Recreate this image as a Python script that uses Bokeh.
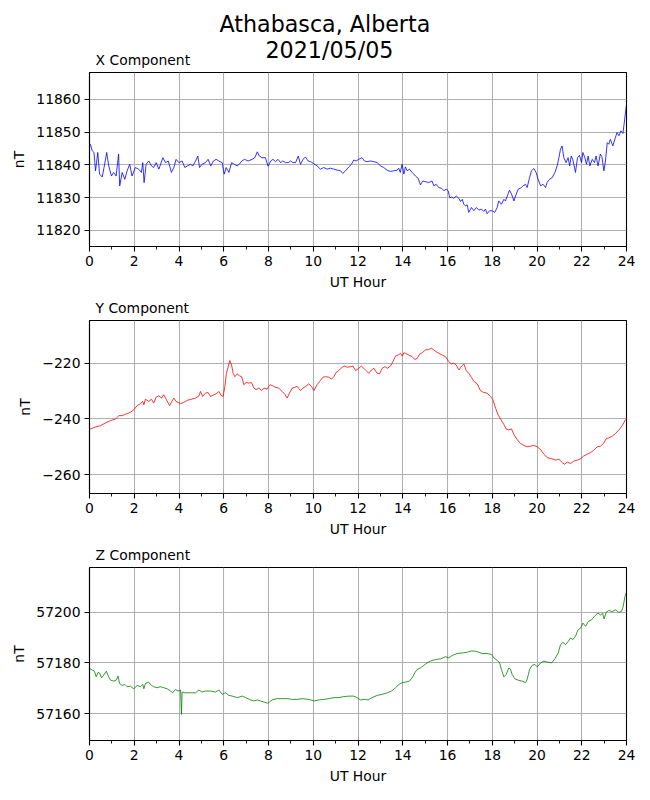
from bokeh.plotting import figure
from bokeh.layouts import column
from bokeh.models import Range1d, FixedTicker, Title
from bokeh.embed import file_html
from bokeh.resources import INLINE

# ---------------- data ----------------
station_title = "Athabasca, Alberta"
date_title = "2021/05/05"
panel_titles = ["X Component", "Y Component", "Z Component"]
x_tick_hours = [0, 2, 4, 6, 8, 10, 12, 14, 16, 18, 20, 22, 24]
x_minor_hours = list(range(25))

x_ticks = [11820, 11830, 11840, 11850, 11860]
y_ticks = [-260, -240, -220]
z_ticks = [57160, 57180, 57200]

x_hours = [0.0, 0.04, 0.12, 0.2, 0.27, 0.37, 0.45, 0.57, 0.65, 0.77, 0.86, 0.98, 1.08, 1.19, 1.3, 1.35,
           1.46, 1.58, 1.68, 1.8, 1.9, 2.05, 2.2, 2.32, 2.38, 2.44, 2.53, 2.65, 2.77, 2.87, 2.98, 3.1,
           3.28, 3.4, 3.52, 3.66, 3.77, 3.87, 3.99, 4.14, 4.26, 4.38, 4.51, 4.62, 4.74, 4.84, 4.92,
           5.03, 5.18, 5.3, 5.42, 5.54, 5.66, 5.78, 5.93, 6.02, 6.11, 6.23, 6.35, 6.47, 6.6, 6.69,
           6.81, 6.93, 7.09, 7.27, 7.39, 7.5, 7.59, 7.71, 7.86, 7.98, 8.1, 8.2, 8.31, 8.43, 8.54,
           8.64, 8.76, 8.88, 8.98, 9.09, 9.21, 9.33, 9.43, 9.54, 9.65, 9.77, 9.88, 10.02, 10.17,
           10.32, 10.47, 10.62, 10.77, 10.92, 11.07, 11.22, 11.32, 11.44, 11.59, 11.71, 11.81,
           11.92, 12.03, 12.18, 12.29, 12.41, 12.56, 12.71, 12.86, 13.0, 13.15, 13.3, 13.45, 13.6,
           13.75, 13.82, 13.89, 13.97, 14.05, 14.12, 14.2, 14.3, 14.42, 14.57, 14.69, 14.79, 14.9,
           15.01, 15.16, 15.31, 15.39, 15.49, 15.61, 15.73, 15.84, 15.94, 16.03, 16.1, 16.18, 16.28,
           16.39, 16.51, 16.58, 16.66, 16.73, 16.8, 16.88, 16.95, 17.07, 17.18, 17.29, 17.4, 17.52,
           17.62, 17.7, 17.77, 17.88, 18.0, 18.11, 18.22, 18.29, 18.41, 18.52, 18.59, 18.67, 18.77,
           18.86, 18.97, 19.04, 19.16, 19.27, 19.37, 19.49, 19.56, 19.66, 19.75, 19.86, 19.96,
           20.05, 20.16, 20.27, 20.38, 20.45, 20.56, 20.68, 20.8, 20.9, 20.98, 21.05, 21.12, 21.2,
           21.3, 21.39, 21.46, 21.53, 21.6, 21.72, 21.81, 21.9, 21.99, 22.05, 22.14, 22.21, 22.29,
           22.36, 22.47, 22.57, 22.64, 22.73, 22.83, 22.9, 22.99, 23.06, 23.14, 23.21, 23.28, 23.39,
           23.5, 23.58, 23.66, 23.75, 23.84, 23.91, 23.99]
x_nt = [11845.8, 11846.3, 11844.3, 11843.8, 11838.2, 11843.8, 11837.2, 11836.3, 11839.2, 11843.8,
        11839.7, 11836.6, 11837.7, 11836.6, 11843.3, 11833.6, 11837.7, 11835.6, 11838.2, 11840.2,
        11836.6, 11839.2, 11838.7, 11837.7, 11840.7, 11834.6, 11840.2, 11841.2, 11839.7, 11839.2,
        11840.7, 11838.7, 11842.2, 11840.7, 11841.2, 11837.7, 11839.2, 11841.7, 11840.7, 11841.2,
        11839.2, 11839.7, 11840.2, 11839.7, 11841.2, 11842.7, 11839.2, 11840.2, 11840.7, 11841.7,
        11839.7, 11841.2, 11841.7, 11841.2, 11840.7, 11837.2, 11839.2, 11837.7, 11840.7, 11840.2,
        11839.7, 11840.2, 11841.2, 11841.7, 11841.2, 11841.7, 11842.2, 11844.0, 11842.7, 11842.2,
        11842.2, 11839.6, 11841.2, 11841.7, 11841.0, 11841.7, 11840.7, 11841.2, 11840.7, 11840.7,
        11841.2, 11840.7, 11840.7, 11842.7, 11840.2, 11841.7, 11842.4, 11841.2, 11841.0, 11840.4,
        11839.7, 11838.7, 11839.2, 11838.7, 11839.0, 11838.7, 11838.4, 11838.2, 11837.4, 11838.2,
        11839.4, 11840.2, 11841.5, 11841.2, 11841.7, 11842.2, 11841.2, 11841.0, 11841.2, 11841.0,
        11840.7, 11839.7, 11839.2, 11838.4, 11838.0, 11838.2, 11838.4, 11839.0, 11837.7, 11840.2,
        11837.2, 11839.4, 11838.2, 11838.7, 11837.7, 11836.6, 11835.9, 11833.9, 11835.1, 11834.9,
        11834.6, 11835.1, 11833.6, 11834.1, 11833.1, 11832.9, 11832.1, 11832.6, 11832.1, 11830.0,
        11830.2, 11829.8, 11830.5, 11829.8, 11828.8, 11829.5, 11828.0, 11827.5, 11827.8, 11825.5,
        11827.0, 11826.0, 11827.0, 11826.2, 11826.5, 11825.8, 11826.5, 11825.1, 11826.0, 11826.0,
        11825.5, 11827.0, 11829.0, 11828.0, 11829.5, 11829.0, 11830.5, 11832.3, 11831.1, 11829.0,
        11830.5, 11832.6, 11832.9, 11833.6, 11834.1, 11833.1, 11835.9, 11838.2, 11838.9, 11837.7,
        11835.6, 11833.6, 11834.1, 11833.1, 11834.6, 11835.6, 11836.1, 11837.7, 11839.7, 11842.2,
        11844.8, 11845.8, 11842.2, 11840.7, 11842.2, 11839.7, 11842.7, 11841.7, 11837.7, 11842.2,
        11842.9, 11840.7, 11843.8, 11842.2, 11840.2, 11842.7, 11839.7, 11841.7, 11840.7, 11842.7,
        11839.7, 11843.3, 11842.5, 11838.2, 11841.2, 11846.8, 11846.3, 11847.8, 11845.8, 11848.3,
        11849.9, 11848.9, 11850.4, 11849.6, 11853.4, 11858.0]

y_hours = [0.0, 0.04, 0.27, 0.5, 0.72, 0.94, 1.17, 1.31, 1.46, 1.61, 1.83, 1.98, 2.13, 2.28, 2.38,
           2.43, 2.5, 2.65, 2.77, 2.87, 2.98, 3.1, 3.22, 3.32, 3.44, 3.58, 3.68, 3.77, 3.87, 4.07,
           4.22, 4.37, 4.56, 4.74, 4.89, 4.96, 5.06, 5.18, 5.3, 5.41, 5.56, 5.71, 5.78, 5.9, 5.97,
           6.05, 6.12, 6.2, 6.27, 6.35, 6.42, 6.5, 6.6, 6.71, 6.8, 6.9, 7.0, 7.12, 7.24, 7.35, 7.45,
           7.57, 7.69, 7.8, 7.94, 8.01, 8.08, 8.19, 8.31, 8.46, 8.61, 8.73, 8.83, 8.94, 9.06, 9.18,
           9.28, 9.43, 9.54, 9.66, 9.8, 9.92, 10.03, 10.17, 10.32, 10.43, 10.55, 10.7, 10.81, 10.92,
           11.02, 11.14, 11.29, 11.41, 11.52, 11.67, 11.78, 11.89, 12.03, 12.15, 12.26, 12.36,
           12.48, 12.6, 12.71, 12.86, 12.96, 13.08, 13.2, 13.31, 13.45, 13.56, 13.68, 13.8, 13.9,
           13.98, 14.05, 14.12, 14.27, 14.42, 14.54, 14.65, 14.75, 14.87, 15.01, 15.16, 15.28,
           15.39, 15.49, 15.61, 15.76, 15.91, 16.06, 16.18, 16.28, 16.39, 16.51, 16.63, 16.73,
           16.84, 16.95, 17.07, 17.18, 17.33, 17.47, 17.62, 17.77, 17.92, 18.03, 18.15, 18.26,
           18.37, 18.52, 18.62, 18.74, 18.86, 18.97, 19.11, 19.26, 19.41, 19.56, 19.71, 19.86,
           20.01, 20.16, 20.31, 20.46, 20.65, 20.83, 20.98, 21.13, 21.24, 21.35, 21.5, 21.65, 21.8,
           21.95, 22.09, 22.24, 22.39, 22.54, 22.69, 22.84, 22.99, 23.09, 23.21, 23.36, 23.51,
           23.66, 23.81, 23.96]
y_nt = [-243.8, -243.6, -242.9, -242.4, -241.4, -240.6, -240.0, -238.8, -238.8, -238.3, -237.6,
        -236.7, -235.2, -234.5, -233.7, -234.9, -232.9, -233.7, -232.9, -234.3, -232.1, -231.7,
        -232.5, -231.3, -233.1, -235.2, -233.7, -232.5, -233.7, -234.5, -234.0, -233.3, -232.9,
        -232.5, -231.7, -230.1, -231.9, -230.7, -230.5, -231.9, -231.3, -230.7, -230.1, -231.7,
        -231.9, -228.3, -223.6, -221.2, -219.0, -220.6, -223.6, -224.8, -223.8, -224.5, -224.8,
        -227.7, -226.9, -227.1, -226.9, -228.9, -229.5, -228.9, -229.8, -228.9, -229.3, -228.3,
        -227.7, -228.1, -228.6, -228.9, -230.1, -231.1, -232.5, -230.7, -228.9, -228.6, -228.3,
        -229.8, -228.9, -228.3, -227.4, -228.3, -229.8, -227.7, -226.2, -225.0, -224.8, -225.0,
        -225.7, -224.8, -223.3, -222.6, -221.4, -221.0, -221.4, -221.2, -221.0, -222.6, -221.8,
        -221.0, -221.8, -222.6, -223.6, -222.4, -221.8, -223.6, -223.8, -221.8, -221.2, -221.8,
        -221.0, -219.4, -217.4, -217.0, -216.4, -217.4, -216.2, -216.4, -217.0, -217.6, -218.6,
        -218.2, -216.7, -216.2, -215.2, -215.0, -214.6, -215.2, -215.8, -216.4, -217.0, -217.6,
        -219.4, -220.2, -219.9, -220.6, -222.4, -221.0, -220.2, -222.6, -223.6, -225.0, -226.5,
        -227.4, -229.8, -230.5, -230.7, -231.9, -233.1, -236.1, -238.5, -240.0, -242.0, -243.6,
        -243.9, -243.6, -245.6, -247.4, -248.8, -249.5, -250.0, -249.8, -249.5, -250.0, -251.0,
        -252.7, -253.9, -254.3, -254.8, -254.5, -255.7, -256.3, -255.5, -256.0, -255.1, -254.8,
        -254.3, -253.3, -252.7, -252.1, -251.2, -250.0, -249.8, -248.6, -247.1, -246.8, -246.2,
        -245.2, -244.0, -242.4, -240.2]

z_hours = [0.0, 0.04, 0.14, 0.22, 0.3, 0.39, 0.45, 0.54, 0.65, 0.75, 0.84, 0.94, 1.09, 1.19, 1.28,
           1.34, 1.46, 1.58, 1.68, 1.83, 1.98, 2.13, 2.28, 2.38, 2.43, 2.5, 2.65, 2.77, 2.87, 3.02,
           3.17, 3.32, 3.47, 3.62, 3.72, 3.84, 3.96, 4.07, 4.11, 4.14, 4.29, 4.51, 4.74, 4.89, 5.03,
           5.18, 5.41, 5.63, 5.78, 5.93, 6.08, 6.23, 6.38, 6.6, 6.83, 6.98, 7.2, 7.35, 7.5, 7.64,
           7.79, 7.94, 8.01, 8.16, 8.38, 8.61, 8.83, 9.06, 9.28, 9.5, 9.8, 10.03, 10.25, 10.47, 10.7,
           10.92, 11.14, 11.37, 11.59, 11.81, 11.96, 12.11, 12.28, 12.45, 12.63, 12.86, 13.08, 13.31,
           13.5, 13.68, 13.83, 13.97, 14.12, 14.3, 14.42, 14.54, 14.64, 14.79, 14.94, 15.09, 15.24,
           15.46, 15.69, 15.91, 16.06, 16.21, 16.43, 16.66, 16.88, 17.07, 17.25, 17.4, 17.55, 17.77,
           17.97, 18.07, 18.22, 18.33, 18.41, 18.52, 18.62, 18.74, 18.81, 18.89, 19.01, 19.19,
           19.34, 19.49, 19.56, 19.67, 19.78, 19.9, 20.01, 20.16, 20.31, 20.46, 20.65, 20.8, 20.95,
           21.05, 21.16, 21.28, 21.4, 21.5, 21.6, 21.72, 21.84, 21.95, 22.05, 22.17, 22.29, 22.44,
           22.59, 22.73, 22.84, 22.93, 23.0, 23.09, 23.21, 23.36, 23.51, 23.66, 23.78, 23.85, 23.93,
           23.99]
z_nt = [57177.9, 57177.6, 57177.1, 57176.7, 57174.5, 57176.3, 57176.0, 57174.1, 57175.4, 57176.7,
        57174.8, 57173.2, 57172.8, 57173.2, 57174.8, 57171.9, 57171.1, 57171.5, 57170.6, 57170.8,
        57169.8, 57171.1, 57170.6, 57171.5, 57169.8, 57171.9, 57172.4, 57171.1, 57170.6, 57170.2,
        57170.6, 57170.2, 57169.8, 57168.9, 57168.2, 57169.5, 57168.9, 57169.3, 57159.7, 57168.5,
        57168.2, 57168.2, 57168.2, 57169.3, 57168.5, 57168.9, 57168.9, 57168.5, 57169.3, 57167.6,
        57168.2, 57167.2, 57166.9, 57166.3, 57166.9, 57166.3, 57165.4, 57165.0, 57165.4, 57165.0,
        57164.6, 57164.1, 57164.3, 57165.4, 57165.9, 57165.9, 57165.9, 57165.6, 57165.6, 57165.9,
        57165.6, 57165.0, 57165.4, 57165.6, 57165.9, 57166.3, 57166.3, 57166.7, 57166.9, 57166.9,
        57166.3, 57165.4, 57165.6, 57165.4, 57166.3, 57167.2, 57167.6, 57168.2, 57168.9, 57170.2,
        57171.5, 57172.2, 57172.4, 57172.8, 57174.1, 57176.1, 57177.4, 57178.0, 57179.0, 57180.0,
        57180.7, 57181.3, 57181.6, 57182.4, 57182.0, 57182.9, 57183.7, 57183.9, 57184.2, 57184.7,
        57184.6, 57184.2, 57183.7, 57183.7, 57183.3, 57182.0, 57181.0, 57180.0, 57177.4, 57174.5,
        57175.4, 57178.0, 57177.6, 57175.4, 57173.7, 57173.1, 57172.8, 57172.2, 57173.5, 57177.4,
        57179.0, 57179.4, 57178.4, 57180.0, 57180.7, 57180.3, 57180.0, 57181.6, 57183.9, 57187.2,
        57188.1, 57187.2, 57188.5, 57189.8, 57189.2, 57190.5, 57193.1, 57193.7, 57195.7, 57194.4,
        57196.3, 57197.0, 57198.6, 57199.6, 57198.9, 57199.6, 57197.3, 57199.9, 57200.7, 57200.2,
        57200.9, 57199.9, 57200.3, 57202.2, 57206.1, 57207.7]

# ---------------- styling ----------------
FONT = "DejaVu Sans"
TICK_PX = "13.9px"
W = 650
LEFT, RIGHT = 89, 24
FRAME_H = 174


def make_panel(hours, vals, color, ylo, yhi, yticks, title, top, bottom, overrides=None):
    p = figure(width=W, height=top + FRAME_H + bottom, output_backend="svg",
               toolbar_location=None, x_range=Range1d(0, 24), y_range=Range1d(ylo, yhi),
               min_border_left=LEFT, min_border_right=RIGHT, min_border_top=top,
               min_border_bottom=bottom)
    p.title.visible = False
    p.background_fill_color = "white"
    p.border_fill_color = "white"
    p.outline_line_color = "black"
    p.outline_line_width = 1.1

    xt = FixedTicker(ticks=x_tick_hours, minor_ticks=x_minor_hours)
    yt = FixedTicker(ticks=yticks, minor_ticks=[])
    p.xaxis.ticker = xt
    p.yaxis.ticker = yt
    p.xgrid.ticker = xt
    p.ygrid.ticker = yt
    for g in (p.xgrid, p.ygrid):
        g.grid_line_color = "#b0b0b0"
        g.grid_line_width = 1.1
    if overrides:
        p.yaxis.major_label_overrides = overrides

    p.xaxis.axis_label = "UT Hour"
    p.yaxis.axis_label = "nT"
    for ax in (p.xaxis[0], p.yaxis[0]):
        ax.axis_line_color = "black"
        ax.axis_line_width = 1.1
        ax.major_tick_line_color = "black"
        ax.major_tick_line_width = 1.1
        ax.major_tick_out = 5
        ax.major_tick_in = 0
        ax.minor_tick_line_color = "black"
        ax.minor_tick_line_width = 0.9
        ax.minor_tick_out = 3
        ax.minor_tick_in = 0
        ax.major_label_text_font = FONT
        ax.major_label_text_font_size = TICK_PX
        ax.major_label_text_color = "black"
        ax.axis_label_text_font = FONT
        ax.axis_label_text_font_size = TICK_PX
        ax.axis_label_text_font_style = "normal"
        ax.axis_label_text_color = "black"
    p.xaxis.major_label_standoff = 4
    p.xaxis.axis_label_standoff = 5
    p.yaxis.major_label_standoff = 4
    p.yaxis.axis_label_standoff = 6

    p.line(hours, vals, line_color=color, line_width=0.8)

    p.add_layout(Title(text=title, align="left", offset=6, standoff=10,
                       text_font=FONT, text_font_size=TICK_PX, text_font_style="normal",
                       text_color="black"), "above")
    return p


p1 = make_panel(x_hours, x_nt, "#0000ff", 11815.1, 11868.2, x_ticks, panel_titles[0], 72, 46)
p1.add_layout(Title(text=date_title, align="left", offset=176, standoff=-36, text_font=FONT,
                    text_font_size="22.2px", text_font_style="normal", text_color="black"),
              "above")
p1.add_layout(Title(text=station_title, align="left", offset=130, standoff=16, text_font=FONT,
                    text_font_size="22.2px", text_font_style="normal", text_color="black"),
              "above")

p2 = make_panel(y_hours, y_nt, "#ff0000", -266.8, -204.6, y_ticks, panel_titles[1], 27, 46,
                overrides={t: "\u2212" + str(abs(t)) for t in y_ticks})
p3 = make_panel(z_hours, z_nt, "#008000", 57149.4, 57217.6, z_ticks, panel_titles[2], 27, 50)

layout = column(p1, p2, p3)
open("out.html", "w").write(file_html(layout, INLINE))
